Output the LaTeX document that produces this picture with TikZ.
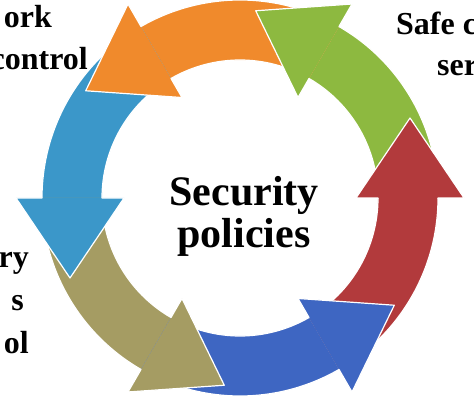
\documentclass[tikz,border=0pt]{standalone}
\usepackage{fontspec}
\setmainfont{Liberation Serif}
\definecolor{cred}{RGB}{178,58,60}
\definecolor{cgreen}{RGB}{141,185,64}
\definecolor{corange}{RGB}{240,138,44}
\definecolor{cteal}{RGB}{59,151,201}
\definecolor{colive}{RGB}{165,156,99}
\definecolor{cblue}{RGB}{62,102,194}
\begin{document}
\begin{tikzpicture}[x=1pt,y=1pt,
  edge/.style={draw=white, line width=1.2pt, line join=round, line cap=round},
  lbl/.style={font=\fontsize{32}{42}\selectfont\bfseries, inner sep=0pt},
  title/.style={font=\fontsize{42}{42}\selectfont\bfseries, inner sep=0pt, align=center}]
\useasboundingbox (0,0) rectangle (474,402);
\clip (0,0) rectangle (474,402);
\fill[white] (0,0) rectangle (474,402);
\begin{scope}[shift={(240pt,204pt)}]
  % bands
  \foreach \b/\col in {0/cred,60/cgreen,120/corange,180/cteal,240/colive,300/cblue}{
    \fill[\col] (\b-60:198pt) arc[start angle=\b-60, end angle=\b, radius=198pt]
      -- (\b:138pt) arc[start angle=\b, end angle=\b-60, radius=138pt] -- cycle;
    \draw[edge] (\b-60:198pt) arc[start angle=\b-60, end angle=\b, radius=198pt];
    \draw[edge] (\b-60:138pt) arc[start angle=\b-60, end angle=\b, radius=138pt];
  }
  % heads
  \foreach \b/\col in {0/cred,60/cgreen,120/corange,180/cteal,240/colive,300/cblue}{
    \fill[\col] (\b:116pt) -- (\b+25.2:187.9pt) -- (\b:224pt) -- cycle;
    \draw[edge] (\b:138pt) -- (\b:116pt) -- (\b+25.2:187.9pt) -- (\b:224pt) -- (\b:198pt);
  }
\end{scope}
\node[title] (center) at (244,186) {Security\\policies};
\node[lbl, anchor=base east] (t1) at (52,374) {ork};
\node[lbl, anchor=base east] (t2) at (88,332) {control};
\node[lbl, anchor=base west] (r1) at (396,367) {Safe c};
\node[lbl, anchor=base west] (r2) at (437,326) {ser};
\node[lbl, anchor=base east] (l1) at (29,135) {ry};
\node[lbl, anchor=base east] (l2) at (24,92) {s};
\node[lbl, anchor=base east] (l3) at (29,49) {ol};
\end{tikzpicture}
\end{document}
